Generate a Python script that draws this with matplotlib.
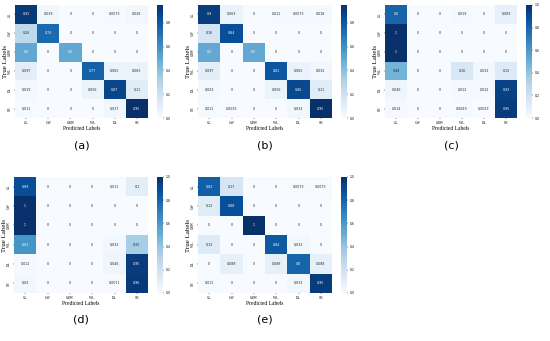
import numpy as np
import matplotlib
matplotlib.use("Agg")
import matplotlib.pyplot as plt
import seaborn as sns

labels = ["GL", "GW", "GBW", "WL", "DL", "SH"]

cm_a = [[0.91, 0.039, 0, 0, 0.0073, 0.026],
        [0.26, 0.74, 0, 0, 0, 0],
        [0.5, 0, 0.5, 0, 0, 0],
        [0.097, 0, 0, 0.77, 0.065, 0.065],
        [0.019, 0, 0, 0.056, 0.87, 0.11],
        [0.011, 0, 0, 0, 0.037, 0.95]]

cm_b = [[0.9, 0.063, 0, 0.011, 0.0073, 0.018],
        [0.16, 0.84, 0, 0, 0, 0],
        [0.5, 0, 0.5, 0, 0, 0],
        [0.097, 0, 0, 0.81, 0.065, 0.032],
        [0.023, 0, 0, 0.056, 0.86, 0.11],
        [0.011, 0.0035, 0, 0, 0.033, 0.95]]

cm_c = [[0.8, 0, 0, 0.019, 0, 0.083],
        [1, 0, 0, 0, 0, 0],
        [1, 0, 0, 0, 0, 0],
        [0.48, 0, 0, 0.16, 0.032, 0.13],
        [0.046, 0, 0, 0.012, 0.012, 0.93],
        [0.014, 0, 0, 0.0089, 0.0023, 0.95]]

cm_d = [[0.89, 0, 0, 0, 0.011, 0.1],
        [1, 0, 0, 0, 0, 0],
        [1, 0, 0, 0, 0, 0],
        [0.61, 0, 0, 0, 0.032, 0.35],
        [0.012, 0, 0, 0, 0.046, 0.95],
        [0.03, 0, 0, 0, 0.0071, 0.96]]

cm_e = [[0.82, 0.17, 0, 0, 0.0073, 0.0073],
        [0.12, 0.88, 0, 0, 0, 0],
        [0, 0, 1, 0, 0, 0],
        [0.13, 0, 0, 0.84, 0.032, 0],
        [0, 0.088, 0, 0.088, 0.8, 0.088],
        [0.011, 0, 0, 0, 0.033, 0.95]]

panels = [("(a)", cm_a), ("(b)", cm_b), ("(c)", cm_c), ("(d)", cm_d), ("(e)", cm_e)]

W, H = 550, 341
# pixel boxes: heatmap left, top, right, bottom
boxes = [(15, 5, 148, 118), (198, 5, 332, 118), (385, 5, 517, 118),
         (14, 177, 148, 293), (198, 177, 332, 293)]

fig = plt.figure(figsize=(W / 100, H / 100), dpi=100)
serif = ["Liberation Serif", "DejaVu Serif"]

for (name, cm), (l, t, r, b) in zip(panels, boxes):
    ax = fig.add_axes([l / W, 1 - b / H, (r - l) / W, (b - t) / H])
    cax = fig.add_axes([(r + 9) / W, 1 - b / H, 6 / W, (b - t) / H])
    data = np.array(cm, dtype=float)
    sns.heatmap(data, ax=ax, cbar_ax=cax, cmap="Blues", annot=True, fmt=".2g",
                annot_kws={"fontsize": 2.3}, xticklabels=labels, yticklabels=labels)
    ax.tick_params(axis="both", labelsize=2.5, length=1, width=0.3, pad=1)
    ax.set_xticklabels(labels, rotation=0)
    ax.set_yticklabels(labels, rotation=90, va="center")
    for lab in ax.get_xticklabels() + ax.get_yticklabels():
        lab.set_fontfamily(serif)
    ax.set_xlabel("Predicted Labels", fontsize=4, family=serif, labelpad=1)
    ax.set_ylabel("True Labels", fontsize=5, family=serif, labelpad=0.5)
    cax.tick_params(labelsize=2.2, length=1, width=0.3, pad=1)
    cx = (l + r) / 2 / W
    fig.text(cx, 1 - (b + 27) / H, name, ha="center", va="center", fontsize=8)

plt.savefig("out.png", dpi=100)
plt.close()
